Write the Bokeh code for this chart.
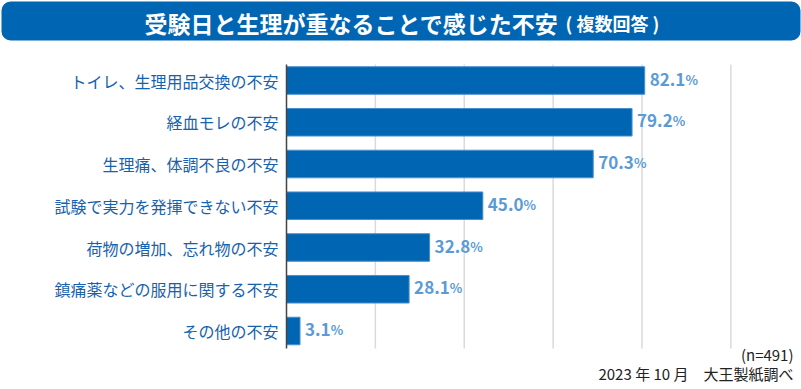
from bokeh.plotting import figure
from bokeh.models import Range1d, BoxAnnotation, Label, ColumnDataSource
from bokeh.core.properties import value
from bokeh.embed import file_html
from bokeh.resources import INLINE

# ---- data ----
categories = [
    "トイレ、生理用品交換の不安",
    "経血モレの不安",
    "生理痛、体調不良の不安",
    "試験で実力を発揮できない不安",
    "荷物の増加、忘れ物の不安",
    "鎮痛薬などの服用に関する不安",
    "その他の不安",
]
values = [82.1, 79.2, 70.3, 45.0, 32.8, 28.1, 3.1]
grid_ticks = [20, 40, 60, 80, 100]
title_main = "受験日と生理が重なることで感じた不安"
title_sub = "( 複数回答 )"
note_n = "(n=491)"
note_src = "2023 年 10 月　大王製紙調べ"

# ---- layout / style ----
W, H = 801, 389
X0, XS = 286.0, 4.363      # pixel of zero, pixels per percent
Y0, YP = 80.0, 41.75       # pixel of first bar centre, pixels per category
GRID_STRETCH = 1.0185
FONT = "Noto Sans CJK JP"
BLUE = "#0066b3"
LABEL_BLUE = "#1762ad"
VALUE_BLUE = "#5b9bd5"


def dx(px):
    return (px - X0) / XS


def dy(py):
    return (py - Y0) / YP


p = figure(width=W, height=H, output_backend="svg", toolbar_location=None,
           x_range=Range1d(dx(0), dx(W)), y_range=Range1d(dy(H), dy(0)),
           min_border=0)
p.axis.visible = False
p.grid.visible = False
p.outline_line_color = None
p.background_fill_color = "white"
p.border_fill_color = "white"

idx = list(range(len(categories)))

# grid lines
gx = [t * GRID_STRETCH for t in grid_ticks]
p.segment(x0=gx, x1=gx, y0=[dy(64)] * len(gx), y1=[dy(348)] * len(gx),
          line_color="#dadada", line_width=1.5)

# bars
src = ColumnDataSource(dict(y=idx, v=values, cat=categories,
                            txt=[f"{v:.1f}" for v in values]))
p.hbar(y="y", left=0, right="v", height=0.66, source=src,
       fill_color=BLUE, line_color="#4a8fd0", line_width=1)

# axis line
p.segment(x0=[0], x1=[0], y0=[dy(64)], y1=[dy(348)], line_color="#444444", line_width=1.5)

# category labels
p.text(x=0, y="y", text="cat", source=src, x_offset=-8, text_align="right",
       text_baseline="middle", text_font=value(FONT), text_font_size="16px",
       text_color=LABEL_BLUE)

# value labels
NUM_PX = 17
VAL_DY = -1.5
p.text(x="v", y="y", text="txt", source=src, x_offset=5, y_offset=VAL_DY,
       text_align="left", text_baseline="alphabetic", text_font=value(FONT),
       text_font_size=f"{NUM_PX}px", text_font_style="bold", text_color=VALUE_BLUE)


def num_width(s):
    return sum((0.30 if c == "." else 0.58) * NUM_PX for c in s)


pct_src = ColumnDataSource(dict(y=idx, v=values,
                                off=[5 + num_width(f"{v:.1f}") + 1 for v in values],
                                t=["%"] * len(values)))
p.text(x="v", y="y", text="t", source=pct_src, x_offset="off", y_offset=VAL_DY,
       text_align="left", text_baseline="alphabetic", text_font=value(FONT),
       text_font_size="13px", text_font_style="bold", text_color=VALUE_BLUE)

# title bar
p.add_layout(BoxAnnotation(left=dx(1), right=dx(800), top=dy(1), bottom=dy(40),
                           fill_color=BLUE, fill_alpha=1.0, line_color=None,
                           border_radius=9))
p.add_layout(Label(x=dx(144), y=dy(22), text=title_main, text_align="left",
                   text_baseline="middle", text_font=FONT, text_font_size="23px",
                   text_font_style="bold", text_color="white"))
p.add_layout(Label(x=dx(565), y=dy(22), text=title_sub, text_align="left",
                   text_baseline="middle", text_font=FONT, text_font_size="18px",
                   text_font_style="bold", text_color="white"))

# footnotes
p.add_layout(Label(x=dx(793), y=dy(354), text=note_n, text_align="right",
                   text_baseline="middle", text_font=FONT, text_font_size="15px",
                   text_color="#222222"))
p.add_layout(Label(x=dx(793), y=dy(372.5), text=note_src, text_align="right",
                   text_baseline="middle", text_font=FONT, text_font_size="15px",
                   text_color="#222222"))

open("out.html", "w").write(file_html(p, INLINE))
